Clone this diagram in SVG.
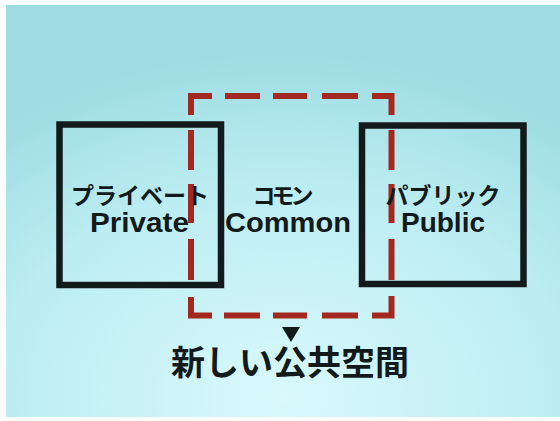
<svg xmlns="http://www.w3.org/2000/svg" width="560" height="421" viewBox="0 0 560 421">
  <defs>
    <radialGradient id="bg" cx="0.5" cy="0.95" r="0.85">
      <stop offset="0" stop-color="#d9f9fc"/>
      <stop offset="0.6" stop-color="#bcedf2"/>
      <stop offset="1" stop-color="#9cdce2"/>
    </radialGradient>
  </defs>
  <style>
    .box { fill: none; stroke: #121a1b; stroke-width: 6.5; stroke-linejoin: miter; }
    .dash { fill: none; stroke: #a3281f; stroke-width: 6; stroke-linecap: butt; stroke-linejoin: miter; }
    .jp { font-family: "Noto Sans CJK JP", "Noto Sans", sans-serif; font-weight: 700; fill: #121a1b; text-anchor: middle; }
    .en { font-family: "Liberation Sans", Arial, sans-serif; font-weight: 700; fill: #121a1b; text-anchor: middle; }
  </style>
  <rect x="0" y="0" width="560" height="421" fill="#ffffff"/>
  <rect x="6" y="5" width="554" height="412" fill="url(#bg)"/>

  <g id="common-zone">
    <path class="dash" d="M191,115 V96 H212"/>
    <path class="dash" d="M225,96 H260 M273,96 H307 M322,96 H358"/>
    <path class="dash" d="M372,96 H391.5 V115"/>
    <path class="dash" d="M391.5,130 V170 M391.5,184 V223 M391.5,239 V280"/>
    <path class="dash" d="M391.5,296 V315.5 H372"/>
    <path class="dash" d="M358,315.5 H322 M307,315.5 H273 M260,315.5 H224"/>
    <path class="dash" d="M212,315.5 H191 V297"/>
    <path class="dash" d="M191,280 V239 M191,223 V184 M191,170 V130"/>
  </g>

  <g id="private">
    <rect class="box" x="59.5" y="124.5" width="161.5" height="160.5"/>
    <text class="jp" x="140" y="203.5" font-size="23">プライベート</text>
    <text class="en" x="139.5" y="232" font-size="27" textLength="99" lengthAdjust="spacingAndGlyphs">Private</text>
  </g>

  <g id="common">
    <text class="jp" x="281" y="203.5" font-size="23" letter-spacing="-4">コモン</text>
    <text class="en" x="288" y="232" font-size="27" textLength="126" lengthAdjust="spacingAndGlyphs">Common</text>
  </g>

  <g id="public">
    <rect class="box" x="362" y="125.5" width="161.5" height="158.5"/>
    <text class="jp" x="443" y="203.5" font-size="23">パブリック</text>
    <text class="en" x="443" y="232" font-size="27" textLength="84" lengthAdjust="spacingAndGlyphs">Public</text>
  </g>

  <g id="connectors">
    <polygon points="282,327 300,327 291,342" fill="#121a1b"/>
  </g>

  <g id="new-public-space">
    <text class="jp" x="290" y="375" font-size="34">新しい公共空間</text>
  </g>
</svg>
